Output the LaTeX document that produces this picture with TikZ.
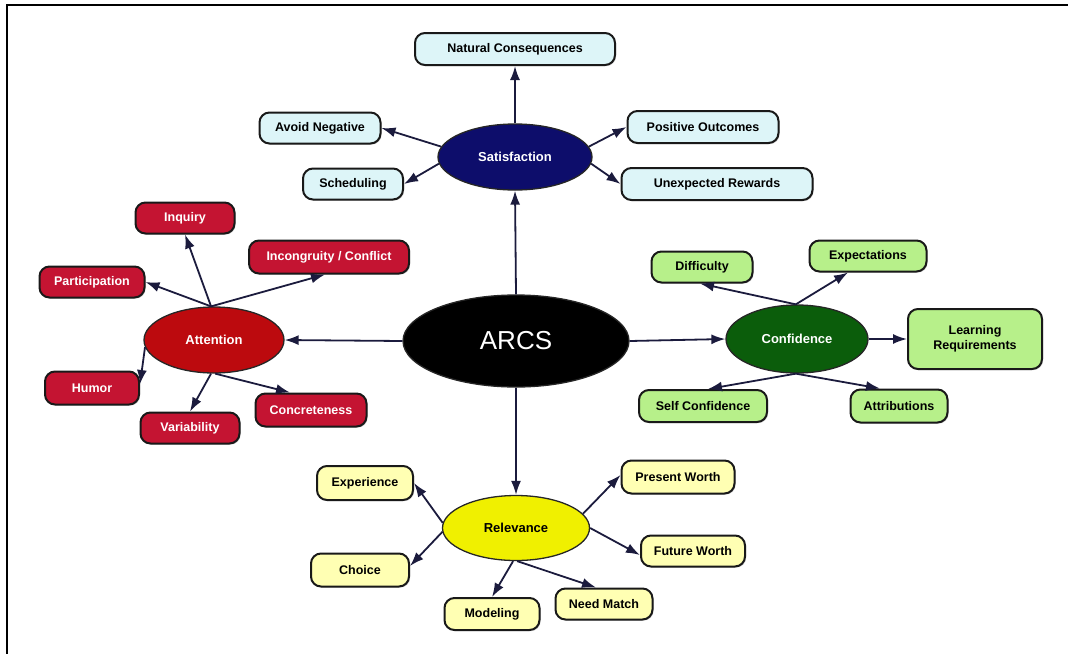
\documentclass[tikz,border=0pt]{standalone}
\usepackage{fontspec}
\setmainfont{Liberation Sans}
\usetikzlibrary{shapes.geometric,arrows.meta,shadows}
\definecolor{satfill}{HTML}{0D0D6B}
\definecolor{satkid}{HTML}{DDF5F8}
\definecolor{attfill}{HTML}{BC0A0E}
\definecolor{attkid}{HTML}{C41432}
\definecolor{conffill}{HTML}{0B5D0B}
\definecolor{confkid}{HTML}{B7F08A}
\definecolor{relfill}{HTML}{F0F000}
\definecolor{relkid}{HTML}{FFFFB3}
\definecolor{edgecol}{HTML}{1B1B3D}
\tikzset{
  ell/.style={ellipse, draw=black!85, line width=1.3pt, inner sep=0pt,
    font=\fontsize{13}{15}\selectfont\bfseries},
  kid/.style={rectangle, rounded corners=10pt, draw=black!90, line width=2pt,
    inner sep=0pt, minimum height=31pt, align=center,
    font=\fontsize{12.5}{14.5}\selectfont\bfseries,
    drop shadow={shadow xshift=1.2pt,shadow yshift=-1.2pt,opacity=0.3}},
  link/.style={draw=edgecol, line width=1.8pt, -{Latex[length=14pt,width=10pt]}},
}
\begin{document}
\begin{tikzpicture}[x=1pt,y=-1pt]
\useasboundingbox (0,0) rectangle (1068,654);
\draw[line width=2pt] (1068,5) -- (7,5) -- (7,654);

% centre
\node[ell, fill=black, text=white, minimum width=226pt, minimum height=92pt,
  font=\fontsize{26}{30}\selectfont] (arcs) at (516,341) {ARCS};

% main ellipses
\node[ell, fill=satfill, text=white, minimum width=154pt, minimum height=66pt] (sat) at (515,157) {Satisfaction};
\node[ell, fill=attfill, text=white, minimum width=140pt, minimum height=66pt] (att) at (214,340) {Attention};
\node[ell, fill=conffill, text=white, minimum width=142pt, minimum height=68pt] (conf) at (797,339) {Confidence};
\node[ell, fill=relfill, text=black, minimum width=147pt, minimum height=65pt] (rel) at (516,528) {Relevance};

% satisfaction children
\node[kid, fill=satkid, minimum width=200pt, minimum height=32pt] (nat) at (515,49) {Natural Consequences};
\node[kid, fill=satkid, minimum width=121pt] (avoid) at (320,128) {Avoid Negative};
\node[kid, fill=satkid, minimum width=100pt] (sched) at (353,184) {Scheduling};
\node[kid, fill=satkid, minimum width=151pt, minimum height=32pt] (pos) at (703,127) {Positive Outcomes};
\node[kid, fill=satkid, minimum width=191pt, minimum height=32pt] (unexp) at (717,184) {Unexpected Rewards};

% attention children
\node[kid, fill=attkid, text=white, minimum width=99pt] (inq) at (185,218) {Inquiry};
\node[kid, fill=attkid, text=white, minimum width=160pt, minimum height=33pt] (incong) at (329,257) {Incongruity / Conflict};
\node[kid, fill=attkid, text=white, minimum width=105pt] (part) at (92,282) {Participation};
\node[kid, fill=attkid, text=white, minimum width=94pt, minimum height=33pt] (humor) at (92,388) {Humor};
\node[kid, fill=attkid, text=white, minimum width=99pt] (var) at (190,428) {Variability};
\node[kid, fill=attkid, text=white, minimum width=111pt, minimum height=33pt] (concr) at (311,410) {Concreteness};

% confidence children
\node[kid, fill=confkid, minimum width=101pt] (diff) at (702,267) {Difficulty};
\node[kid, fill=confkid, minimum width=117pt] (expect) at (868,256) {Expectations};
\node[kid, fill=confkid, minimum width=134pt, minimum height=60pt] (learn) at (975,339) {Learning\\Requirements};
\node[kid, fill=confkid, minimum width=128pt, minimum height=32pt] (selfc) at (703,406) {Self Confidence};
\node[kid, fill=confkid, minimum width=97pt, minimum height=33pt] (attr) at (899,406) {Attributions};

% relevance children
\node[kid, fill=relkid, minimum width=96pt, minimum height=34pt] (exper) at (365,483) {Experience};
\node[kid, fill=relkid, minimum width=98pt, minimum height=33pt] (choice) at (360,570) {Choice};
\node[kid, fill=relkid, minimum width=95pt, minimum height=32pt] (model) at (492,614) {Modeling};
\node[kid, fill=relkid, minimum width=97pt] (need) at (604,604) {Need Match};
\node[kid, fill=relkid, minimum width=113pt, minimum height=33pt] (present) at (678,477) {Present Worth};
\node[kid, fill=relkid, minimum width=104pt] (future) at (693,551) {Future Worth};

% ARCS links
\draw[link] (arcs.north) -- (sat.south);
\draw[link] (arcs.west) -- (att.east);
\draw[link] (arcs.east) -- (conf.west);
\draw[link] (arcs.south) -- (rel.north);

% satisfaction links
\draw[link] (sat.north) -- (nat.south);
\draw[link] (sat.172) -- (avoid.east);
\draw[link] (sat.185) -- (sched.east);
\draw[link] (sat.8) -- (pos.west);
\draw[link] (sat.355) -- (unexp.west);

% attention links
\draw[link] (att.95) -- (inq.south);
\draw[link] (att.95) -- ([xshift=-4pt]incong.south);
\draw[link] (att.95) -- (part.east);
\draw[link] (att.186) -- ([yshift=4pt]humor.east);
\draw[link] (att.265) -- (var.north);
\draw[link] (att.272) -- ([xshift=-21pt]concr.north);

% confidence links
\draw[link] (conf.92) -- ([xshift=-2pt]diff.south);
\draw[link] (conf.92) -- ([xshift=-20pt]expect.south);
\draw[link] (conf.east) -- (learn.west);
\draw[link] (conf.268) -- ([xshift=5pt]selfc.north);
\draw[link] (conf.268) -- ([xshift=-19pt]attr.north);

% relevance links
\draw[link] (rel.176) -- (exper.east);
\draw[link] (rel.183) -- ([yshift=4pt]choice.east);
\draw[link] (rel.12) -- ([yshift=2pt]present.west);
\draw[link] (rel.0) -- ([yshift=-4pt]future.west);
\draw[link] (rel.265) -- (model.north);
\draw[link] (rel.272) -- ([xshift=-8pt]need.north);
\end{tikzpicture}
\end{document}
